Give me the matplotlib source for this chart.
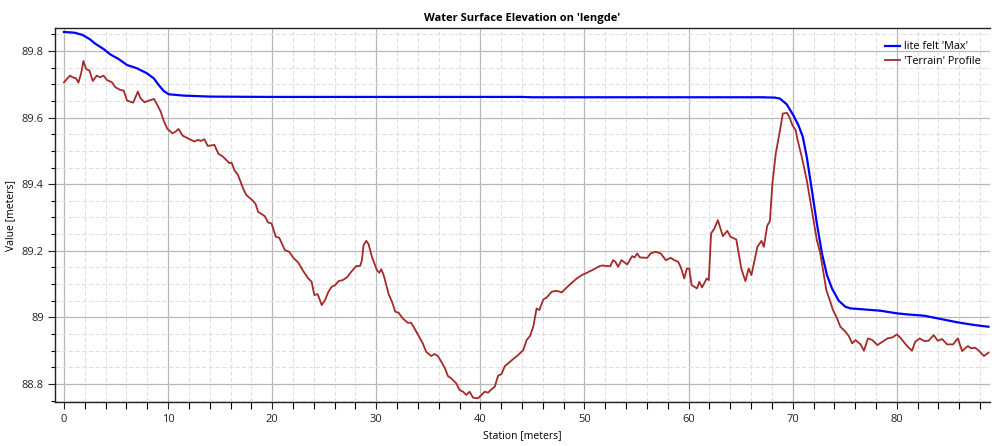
import matplotlib
matplotlib.use("Agg")
import matplotlib.pyplot as plt
from matplotlib.ticker import MultipleLocator, FuncFormatter

plt.rcParams['font.family'] = ['Open Sans', 'DejaVu Sans']

# water surface (lite felt 'Max')
ws_station = [0.0, 1.0, 1.8, 2.5, 3.0, 3.8, 4.44, 5.24, 6.05, 7.01, 7.97, 8.62,
              9.10, 9.58, 10.06, 11.51, 14.08, 20.0, 30.0, 44.0, 45.0, 60.0,
              67.0, 68.3, 68.77, 69.42, 70.06, 70.55, 70.97, 71.35, 71.84,
              72.32, 72.81, 73.29, 73.77, 74.42, 75.06, 75.55, 76.84, 78.45,
              80.06, 81.03, 82.65, 84.26, 85.87, 87.48, 88.8]
ws_value = [89.857, 89.855, 89.848, 89.835, 89.822, 89.806, 89.790, 89.776,
            89.758, 89.748, 89.733, 89.718, 89.698, 89.680, 89.670, 89.666,
            89.663, 89.662, 89.662, 89.662, 89.661, 89.661, 89.661, 89.660,
            89.657, 89.640, 89.607, 89.577, 89.542, 89.482, 89.382, 89.282,
            89.192, 89.127, 89.087, 89.050, 89.032, 89.027, 89.024, 89.020,
            89.012, 89.009, 89.005, 88.995, 88.985, 88.977, 88.972]

# terrain profile
tr_station = [0.0, 0.58, 0.84, 1.16, 1.39, 1.65, 1.87, 2.13, 2.45, 2.77, 3.16,
              3.48, 3.81, 4.13, 4.61, 4.94, 5.42, 5.74, 6.06, 6.65, 7.10, 7.35,
              7.74, 8.16, 8.65, 8.97, 9.29, 9.61, 9.94, 10.42, 10.74, 11.00,
              11.39, 12.03, 12.52, 12.84, 13.16, 13.48, 13.81, 14.45, 14.84,
              15.26, 15.90, 16.10, 16.39, 16.71, 17.20, 17.50, 18.16, 18.40,
              18.65, 19.29, 19.61, 19.94, 20.35, 20.68, 21.22, 21.64, 22.03,
              22.50, 22.99, 23.47, 23.79, 24.05, 24.37, 24.76, 25.08, 25.40,
              25.72, 26.05, 26.37, 26.78, 27.17, 27.65, 28.07, 28.46, 28.62,
              28.78, 29.04, 29.26, 29.58, 30.06, 30.29, 30.48, 30.71, 31.19,
              31.51, 31.83, 32.15, 32.54, 33.02, 33.34, 33.67, 34.15, 34.47,
              34.79, 35.27, 35.60, 35.92, 36.24, 36.56, 36.88, 37.20, 37.68,
              38.00, 38.33, 38.65, 38.97, 39.29, 39.77, 40.10, 40.42, 40.74,
              41.06, 41.38, 41.70, 42.03, 42.35, 42.67, 43.15, 43.63, 44.12,
              44.44, 44.76, 45.08, 45.40, 45.66, 46.05, 46.37, 46.85, 47.33,
              47.81, 48.30, 48.78, 49.26, 49.74, 50.23, 50.87, 51.45, 51.77,
              52.16, 52.48, 52.74, 52.97, 53.23, 53.55, 54.10, 54.58, 54.81,
              55.06, 55.32, 56.03, 56.35, 56.84, 57.32, 57.81, 58.29, 58.61,
              59.00, 59.26, 59.58, 59.84, 60.06, 60.29, 60.81, 61.03, 61.29,
              61.74, 61.94, 62.16, 62.48, 62.81, 63.29, 63.71, 64.03, 64.58,
              65.06, 65.45, 65.77, 66.03, 66.61, 67.00, 67.23, 67.55, 67.81,
              68.05, 68.37, 68.75, 69.05, 69.45, 69.70, 69.97, 70.29, 70.45,
              70.87, 71.35, 71.84, 72.32, 72.65, 72.97, 73.23, 73.61, 73.87,
              74.19, 74.58, 75.06, 75.39, 75.71, 76.03, 76.52, 76.84, 77.23,
              77.65, 78.13, 78.61, 79.10, 79.58, 80.0, 80.4, 80.9, 81.45, 81.77,
              82.19, 82.64, 83.06, 83.54, 83.93, 84.35, 84.83, 85.4, 85.86,
              86.27, 86.82, 87.15, 87.5, 87.82, 88.37, 88.8]
tr_value = [89.706, 89.726, 89.721, 89.718, 89.705, 89.733, 89.770, 89.746,
            89.741, 89.710, 89.726, 89.721, 89.726, 89.713, 89.706, 89.691,
            89.683, 89.681, 89.651, 89.645, 89.678, 89.658, 89.646, 89.651,
            89.656, 89.638, 89.618, 89.588, 89.566, 89.553, 89.558, 89.566,
            89.546, 89.536, 89.528, 89.533, 89.530, 89.535, 89.515, 89.518,
            89.491, 89.483, 89.463, 89.465, 89.441, 89.428, 89.388, 89.368,
            89.350, 89.341, 89.317, 89.304, 89.285, 89.282, 89.242, 89.239,
            89.202, 89.197, 89.179, 89.165, 89.139, 89.117, 89.107, 89.067,
            89.070, 89.037, 89.052, 89.077, 89.092, 89.097, 89.109, 89.112,
            89.120, 89.139, 89.154, 89.155, 89.172, 89.217, 89.230, 89.220,
            89.182, 89.142, 89.134, 89.145, 89.127, 89.070, 89.047, 89.017,
            89.014, 88.997, 88.984, 88.984, 88.967, 88.940, 88.922, 88.897,
            88.884, 88.890, 88.884, 88.867, 88.850, 88.824, 88.817, 88.802,
            88.782, 88.777, 88.767, 88.777, 88.759, 88.757, 88.767, 88.777,
            88.774, 88.784, 88.792, 88.825, 88.830, 88.854, 88.862, 88.875,
            88.887, 88.902, 88.932, 88.944, 88.972, 89.027, 89.022, 89.054,
            89.060, 89.077, 89.080, 89.075, 89.090, 89.104, 89.117, 89.127,
            89.134, 89.144, 89.154, 89.156, 89.154, 89.154, 89.172, 89.167,
            89.152, 89.172, 89.159, 89.184, 89.180, 89.192, 89.180, 89.179,
            89.192, 89.197, 89.192, 89.172, 89.179, 89.172, 89.167, 89.150,
            89.117, 89.147, 89.147, 89.097, 89.087, 89.107, 89.090, 89.117,
            89.112, 89.252, 89.267, 89.292, 89.244, 89.260, 89.242, 89.234,
            89.147, 89.109, 89.147, 89.127, 89.212, 89.230, 89.212, 89.275,
            89.290, 89.402, 89.492, 89.557, 89.612, 89.614, 89.600, 89.577,
            89.562, 89.535, 89.482, 89.412, 89.322, 89.232, 89.192, 89.132,
            89.082, 89.047, 89.022, 89.002, 88.972, 88.957, 88.944, 88.922,
            88.932, 88.919, 88.900, 88.937, 88.932, 88.917, 88.927, 88.937,
            88.940, 88.949, 88.937, 88.917, 88.900, 88.927, 88.937, 88.929,
            88.930, 88.947, 88.930, 88.935, 88.919, 88.919, 88.937, 88.899,
            88.914, 88.907, 88.909, 88.902, 88.884, 88.894]

fig = plt.figure(figsize=(9.92, 4.46), dpi=100)
ax = fig.add_axes([55 / 992, 1 - 402 / 446, 935 / 992, 374 / 446])

ax.plot(ws_station, ws_value, color='#0000ff', lw=1.6, label="lite felt 'Max'")
ax.plot(tr_station, tr_value, color='#a52a2a', lw=1.3, label="'Terrain' Profile")

ax.set_xlim(-0.86, 88.95)
ax.set_ylim(88.746, 89.869)

ax.xaxis.set_major_locator(MultipleLocator(10))
ax.xaxis.set_minor_locator(MultipleLocator(2))
ax.yaxis.set_major_locator(MultipleLocator(0.2))
ax.yaxis.set_minor_locator(MultipleLocator(0.05))
ax.yaxis.set_major_formatter(FuncFormatter(lambda v, p: '%g' % round(v, 2)))

ax.grid(which='major', color='#b8b8b8', lw=0.9)
ax.grid(which='minor', color='#e0e0e0', lw=0.8, ls=(0, (4, 2)))
ax.set_axisbelow(True)

ax.tick_params(which='major', length=5, width=0.8, labelsize=8, colors='#222222')
ax.tick_params(axis='x', which='minor', length=5, width=0.8)
ax.tick_params(axis='y', which='minor', length=3, width=0.8)
ax.tick_params(axis='y', pad=3)
ax.tick_params(axis='x', pad=4)
ax.spines['right'].set_visible(False)
for s in ('left', 'bottom', 'top'):
    ax.spines[s].set_linewidth(1.0)
    ax.spines[s].set_color('#222222')

ax.set_title("Water Surface Elevation on 'lengde'", fontsize=8, fontweight='bold', pad=5)
ax.set_xlabel('Station [meters]', fontsize=7.5, labelpad=3)
ax.set_ylabel('Value [meters]', fontsize=7.5, labelpad=4)

ax.legend(loc='upper right', bbox_to_anchor=(1.0, 0.99), frameon=False, fontsize=7.8,
          handlelength=1.4, handletextpad=0.3, labelspacing=0.3)

fig.savefig('out.png', dpi=100)
